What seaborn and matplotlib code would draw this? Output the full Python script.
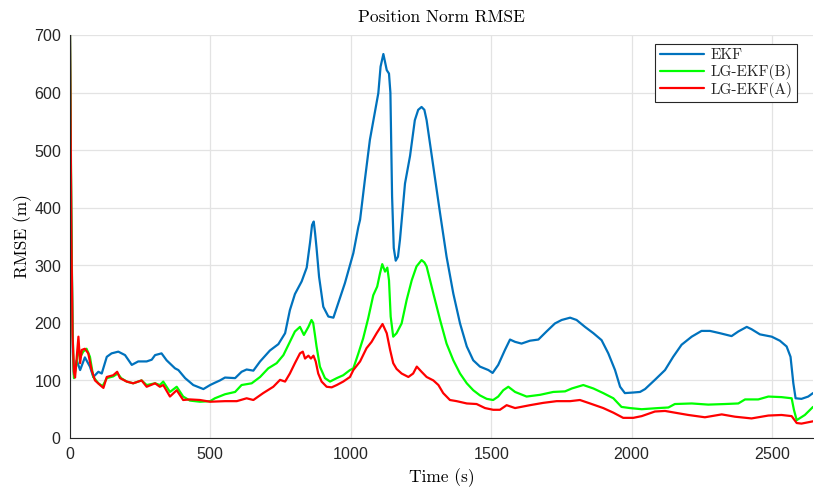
import matplotlib
matplotlib.use("Agg")
import matplotlib.pyplot as plt
import pandas as pd
import seaborn as sns

# ---- data: position-norm RMSE over time for each filter ----
ekf_t = [0, 4, 10, 14, 24, 36, 53, 71, 83, 101, 113, 131, 148, 172, 196, 220, 243, 273, 291,
         303, 326, 344, 374, 386, 410, 439, 475, 499, 516, 534, 552, 588, 611, 629, 653, 677,
         712, 742, 766, 783, 801, 825, 843, 855, 862, 868, 873, 878, 887, 902, 920, 938, 955,
         979, 997, 1009, 1027, 1033, 1050, 1068, 1086, 1098, 1106, 1116, 1128, 1136, 1141,
         1147, 1153, 1160, 1168, 1175, 1193, 1211, 1228, 1240, 1252, 1262, 1270, 1294, 1318,
         1341, 1365, 1389, 1413, 1436, 1460, 1490, 1505, 1525, 1549, 1567, 1585, 1608, 1638,
         1668, 1697, 1727, 1751, 1781, 1804, 1834, 1864, 1893, 1917, 1941, 1959, 1976, 2006,
         2030, 2048, 2083, 2119, 2148, 2178, 2214, 2249, 2279, 2315, 2356, 2380, 2410, 2427,
         2457, 2499, 2528, 2552, 2566, 2576, 2584, 2605, 2629, 2646]
ekf_rmse = [700, 400, 150, 110, 135, 118, 140, 124, 106, 115, 112, 141, 147, 150, 144, 127, 133,
            133, 136, 144, 147, 135, 121, 118, 104, 92, 85, 92, 96, 100, 105, 104, 115, 119, 117,
            133, 152, 163, 182, 222, 250, 272, 296, 340, 370, 376, 355, 330, 280, 228, 211, 209,
            234, 269, 300, 321, 367, 379, 448, 518, 567, 599, 645, 667, 639, 633, 600, 420, 330,
            308, 315, 344, 442, 490, 552, 570, 575, 570, 552, 471, 390, 315, 251, 199, 159, 135,
            124, 118, 113, 127, 153, 171, 167, 164, 169, 171, 185, 199, 205, 209, 205, 193, 182,
            170, 147, 118, 89, 78, 79, 80, 85, 101, 118, 141, 162, 176, 186, 186, 182, 177, 185,
            193, 189, 180, 176, 169, 159, 141, 95, 69, 68, 72, 78]

lgb_t = [0, 5, 9, 14, 24, 30, 36, 47, 59, 71, 83, 101, 116, 131, 154, 170, 182, 202, 225, 255,
         273, 303, 320, 332, 356, 380, 403, 427, 463, 499, 516, 552, 588, 611, 647, 677, 706,
         736, 760, 783, 801, 819, 833, 849, 860, 866, 872, 878, 890, 908, 926, 950, 973, 997,
         1009, 1027, 1044, 1062, 1080, 1094, 1104, 1112, 1122, 1130, 1136, 1142, 1151, 1163,
         1181, 1199, 1217, 1234, 1252, 1262, 1270, 1294, 1318, 1341, 1365, 1389, 1413, 1436,
         1460, 1484, 1507, 1525, 1543, 1561, 1585, 1626, 1674, 1721, 1763, 1787, 1828, 1864,
         1899, 1935, 1964, 1994, 2036, 2095, 2131, 2154, 2214, 2273, 2332, 2380, 2404, 2451,
         2487, 2534, 2570, 2578, 2588, 2617, 2646]
lgb_rmse = [700, 380, 190, 104, 130, 160, 140, 150, 155, 141, 106, 95, 90, 104, 107, 112, 104,
            98, 95, 100, 92, 95, 92, 98, 80, 89, 72, 65, 63, 64, 69, 76, 80, 92, 95, 106, 121,
            130, 144, 167, 185, 193, 179, 193, 205, 200, 180, 159, 124, 104, 98, 104, 109, 118,
            121, 147, 173, 208, 248, 263, 286, 302, 289, 296, 274, 211, 176, 182, 199, 240, 274,
            298, 309, 305, 298, 251, 205, 164, 135, 112, 95, 83, 74, 68, 66, 72, 83, 89, 80, 72,
            75, 80, 81, 86, 92, 86, 78, 69, 54, 52, 50, 52, 53, 59, 60, 58, 59, 60, 67, 67, 72,
            71, 69, 49, 31, 40, 54]

lga_t = [0, 5, 9, 14, 18, 24, 30, 36, 42, 53, 65, 77, 89, 107, 119, 131, 154, 168, 178, 202,
         225, 255, 273, 303, 320, 332, 356, 380, 403, 427, 463, 499, 552, 594, 629, 653, 688,
         724, 748, 766, 783, 801, 819, 829, 837, 849, 858, 867, 875, 884, 896, 914, 932, 950,
         973, 997, 1009, 1033, 1056, 1074, 1092, 1113, 1128, 1140, 1151, 1163, 1181, 1205,
         1222, 1235, 1252, 1270, 1294, 1312, 1329, 1353, 1377, 1413, 1448, 1478, 1507, 1531,
         1555, 1585, 1638, 1685, 1733, 1781, 1816, 1852, 1899, 1935, 1970, 2006, 2036, 2083,
         2119, 2166, 2202, 2261, 2321, 2368, 2427, 2487, 2534, 2570, 2588, 2605, 2646]
lga_rmse = [700, 350, 180, 115, 105, 140, 176, 130, 153, 155, 147, 118, 100, 92, 87, 106, 109,
            115, 104, 98, 95, 100, 89, 95, 89, 92, 72, 83, 66, 67, 66, 63, 64, 64, 69, 66, 78,
            89, 101, 98, 112, 130, 147, 150, 138, 143, 138, 143, 133, 112, 98, 89, 88, 92, 98,
            106, 118, 133, 156, 167, 182, 198, 182, 153, 130, 120, 112, 106, 112, 124, 115, 106,
            100, 92, 78, 66, 64, 60, 59, 52, 49, 49, 57, 52, 57, 61, 64, 64, 66, 60, 52, 44, 35,
            35, 38, 46, 47, 43, 40, 36, 41, 37, 34, 39, 40, 38, 26, 25, 29]

series_names = ["EKF", "LG-EKF(B)", "LG-EKF(A)"]
x_ticks = [0, 500, 1000, 1500, 2000, 2500]
y_ticks = [0, 100, 200, 300, 400, 500, 600, 700]

df = pd.concat([
    pd.DataFrame({"Time": ekf_t, "RMSE": ekf_rmse, "Method": series_names[0]}),
    pd.DataFrame({"Time": lgb_t, "RMSE": lgb_rmse, "Method": series_names[1]}),
    pd.DataFrame({"Time": lga_t, "RMSE": lga_rmse, "Method": series_names[2]}),
], ignore_index=True)

# ---- styling ----
sns.set_style("white")
ink = "#262626"
serif = "cmr10"
plt.rcParams["axes.formatter.use_mathtext"] = True

fig = plt.figure(figsize=(8.14, 4.91), dpi=100)
ax = fig.add_axes([70 / 814, 53 / 491, 743 / 814, 403 / 491])

palette = {"EKF": "#0072BD", "LG-EKF(B)": "#00FF00", "LG-EKF(A)": "#FF0000"}
sns.lineplot(data=df, x="Time", y="RMSE", hue="Method", hue_order=series_names,
             palette=palette, estimator=None, sort=False, linewidth=1.6, ax=ax)

ax.set_xlim(0, 2646)
ax.set_ylim(0, 700)
ax.set_xticks(x_ticks)
ax.set_yticks(y_ticks)
ax.grid(True, color="#e3e3e3", linewidth=0.9)
ax.set_axisbelow(True)

for side in ("top", "right"):
    ax.spines[side].set_visible(False)
for side in ("left", "bottom"):
    ax.spines[side].set_color(ink)
    ax.spines[side].set_linewidth(0.8)

ax.tick_params(direction="in", length=5, width=0.8, color=ink, labelcolor=ink,
               labelsize=11.5, pad=6)
for lbl in ax.get_xticklabels() + ax.get_yticklabels():
    lbl.set_fontfamily("Liberation Sans")

ax.set_title("Position Norm RMSE", fontfamily=serif, fontsize=12.5, color="black", pad=9)
ax.set_xlabel("Time (s)", fontfamily=serif, fontsize=12.5, color="black", labelpad=4)
ax.set_ylabel("RMSE (m)", fontfamily=serif, fontsize=12.5, color="black", labelpad=1)

leg = ax.legend(loc="upper right", bbox_to_anchor=(0.979, 0.978), borderaxespad=0,
                frameon=True, fancybox=False, framealpha=1, edgecolor=ink,
                prop={"family": serif, "size": 11}, handlelength=2.9,
                handletextpad=0.45, labelspacing=0.12, borderpad=0.3)
leg.get_frame().set_linewidth(0.8)
leg.set_title(None)

fig.savefig("out.png", dpi=100)
